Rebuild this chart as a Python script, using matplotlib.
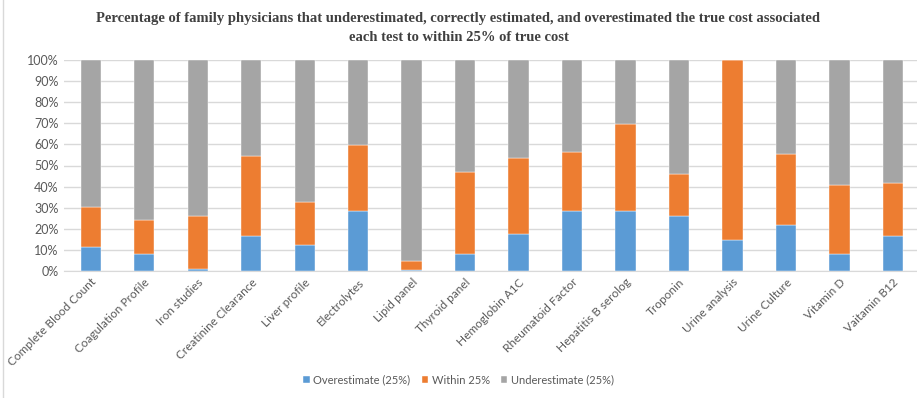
import numpy as np
import matplotlib
matplotlib.use("Agg")
import matplotlib.pyplot as plt
from matplotlib.lines import Line2D

# datos (porcentajes acumulados)
pruebas = ["Complete Blood Count", "Coagulation Profile", "Iron studies",
           "Creatinine Clearance", "Liver profile", "Electrolytes", "Lipid panel",
           "Thyroid panel", "Hemoglobin A1C", "Rheumatoid Factor",
           "Hepatitis B serolog", "Troponin", "Urine analysis", "Urine Culture",
           "Vitamin D", "Vaitamin B12"]
sobreestima = [11.2, 8.1, 0.9, 16.6, 12.3, 28.3, 0.6, 8.1, 17.5, 28.3,
               28.3, 25.9, 14.7, 21.8, 8.1, 16.6]
dentro_25 = [19.0, 15.9, 25.0, 38.1, 20.2, 31.4, 4.1, 38.8, 36.2, 28.3,
             41.5, 20.2, 85.3, 33.8, 32.8, 25.3]
subestima = [100 - a - b for a, b in zip(sobreestima, dentro_25)]

series = ["Overestimate (25%)", "Within 25%", "Underestimate (25%)"]
colores = ["#5B9BD5", "#ED7D31", "#A5A5A5"]

plt.rcParams['font.family'] = ['Lato', 'DejaVu Sans']

fig = plt.figure(figsize=(9.17, 3.98), dpi=100)
ax = fig.add_axes([64 / 917, 1 - 271 / 398, 1 - 64 / 917, 211 / 398])

x = np.arange(len(pruebas))
base = np.zeros(len(pruebas))
for nombre, valores, c in zip(series, [sobreestima, dentro_25, subestima], colores):
    ax.bar(x, valores, 0.38, bottom=base, color=c, label=nombre,
           edgecolor="white", linewidth=0.3, zorder=3)
    base = base + np.array(valores)

ax.set_ylim(0, 100)
ax.set_xlim(-0.5, len(pruebas) - 1 + 24 / 53.5)
ax.set_yticks(range(0, 101, 10))
ax.set_yticklabels([f"{v}%" for v in range(0, 101, 10)], fontsize=9, color="#595959")
ax.set_xticks(x)
ax.set_xticklabels(pruebas, rotation=45, ha="right", rotation_mode="anchor",
                   fontsize=8.5, color="#595959")
ax.tick_params(length=0, pad=4)
ax.grid(axis="y", color="#D9D9D9", linewidth=1, zorder=0)
for lado in ["top", "right", "left"]:
    ax.spines[lado].set_visible(False)
ax.spines["bottom"].set_color("#D9D9D9")

fig.text(0.5, 1 - 28 / 398, "Percentage of family physicians that underestimated, correctly estimated, and overestimated the true cost associated\neach test to within 25% of true cost",
         ha="center", va="center", family="Liberation Serif", fontweight="bold",
         fontsize=10.5, color="#404040", linespacing=1.55)

fig.legend(loc="center", bbox_to_anchor=(0.5, 1 - 380 / 398), ncol=3, frameon=False,
           fontsize=8, handlelength=0.6, handleheight=0.6, handletextpad=0.3,
           columnspacing=1.0, labelcolor="#595959")

fig.add_artist(Line2D([3 / 917, 3 / 917], [0, 1], color="#D9D9D9", linewidth=1,
                      transform=fig.transFigure))

fig.savefig("out.png", dpi=100)
